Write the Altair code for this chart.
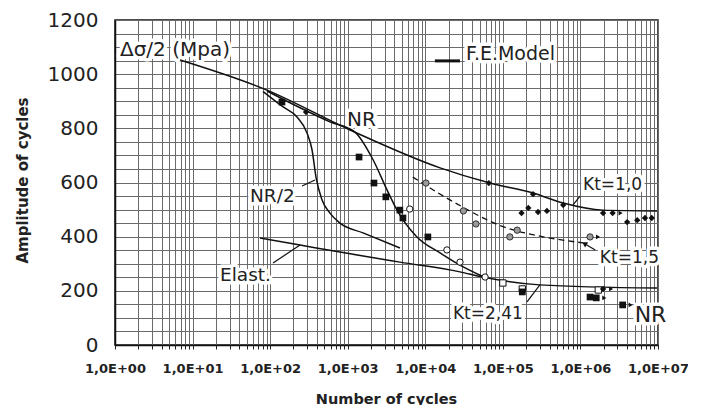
import altair as alt
import pandas as pd

# ---------------- data ----------------
# F.E. model curves (N cycles, amplitude MPa)
KT10_X = [6.9, 91, 1070, 15500, 68000, 245000, 600000, 1.95e6, 9.7e6]
KT10_Y = [1052, 941, 794, 654, 598, 561, 524, 498, 495]

KT241_X = [91, 243, 590, 1240, 2130, 3220, 4320, 7800, 15500, 28000, 55000]
KT241_Y = [938, 876, 824, 786, 683, 572, 498, 399, 340, 295, 253]

NR2_X = [81, 147, 222, 299, 347, 390, 467, 590, 795, 1574, 4720]
NR2_Y = [936, 879, 842, 783, 720, 620, 535, 487, 450, 414, 358]

ELAST_X = [74, 243, 795, 4720, 28000, 55000, 300000, 9.7e6]
ELAST_Y = [395, 369, 343, 306, 270, 251, 222, 210]

KT15_X = [6900, 21000, 113000, 300000, 1.08e6]
KT15_Y = [620, 535, 432, 402, 377]

# experimental points
SQ_X = [142, 1400, 2180, 3100, 4700, 5150, 10800, 178000, 1.33e6, 1.6e6, 3.5e6]
SQ_Y = [897, 694, 598, 547, 498, 469, 399, 196, 177, 174, 148]

OC_X = [6300, 19000, 28000, 59000]
OC_Y = [502, 351, 306, 251]

OS_X = [100000, 178000, 1.7e6]
OS_Y = [229, 207, 203]

DI_X = [290, 66000, 245000, 174000, 213000, 284000, 370000, 600000,
        1.96e6, 2.6e6, 4.0e6, 5.4e6, 6.8e6, 8.3e6, 1.96e6]
DI_Y = [860, 598, 557, 487, 506, 491, 495, 517,
        487, 487, 454, 461, 469, 469, 207]

GC_X = [10200, 31000, 45000, 123000, 153000, 1.33e6]
GC_Y = [598, 495, 447, 399, 424, 399]

# run-outs (not broken)
RUN_X = [2.6e6, 1.33e6, 1.96e6, 1.6e6, 3.5e6]
RUN_Y = [487, 399, 207, 174, 148]

# texts
LABEL_TEXT = ["Δσ/2 (Mpa)", "F.E.Model", "NR", "NR/2", "Elast.",
              "Kt=1,0", "Kt=1,5", "Kt=2,41", "NR"]
LABEL_X = [1.16, 33500, 980, 55, 22.6, 1.08e6, 1.78e6, 22700, 5.0e6]
LABEL_Y = [1089, 1075, 831, 550, 258, 591, 321, 114, 111]

# leader lines
LEAD_X = [258, 109, 804000, 1.55e6, 205000]
LEAD_Y = [587, 303, 517, 351, 159]
LEAD_X2 = [379, 243, 988000, 1.15e6, 300000]
LEAD_Y2 = [609, 369, 550, 373, 222]

# ---------------- chart ----------------
FONT = "DejaVu Sans"
X_GRID = [m * 10 ** e for e in range(7) for m in range(1, 10)] + [1e7]
Y_GRID = list(range(0, 1201, 50))

xscale = alt.Scale(type="log", domain=[1, 1e7], nice=False)
yscale = alt.Scale(domain=[0, 1200], nice=False)

GRID_COLOR = "#6a6a6a"

lg = "log(datum.value)/LN10"
x_axis = alt.Axis(
    values=X_GRID,
    labelExpr=f"abs({lg} - round({lg})) < 0.001 ? '1,0E+0' + round({lg}) : ''",
    labelFont=FONT, labelFontSize=13, labelFontWeight="bold", labelColor="#222",
    labelPadding=13, tickSize=4, tickColor="#222",
    domainColor="#111", domainWidth=1.5,
    gridColor=GRID_COLOR, gridWidth=1.0,
    title="Number of cycles", titleFont=FONT, titleFontSize=14.5,
    titleFontWeight="bold", titleColor="#222",
    titleX=271, titleY=54, titleAlign="center", titleBaseline="middle",
    labelFlush=False, labelOverlap=False,
)
y_axis = alt.Axis(
    values=Y_GRID,
    labelExpr="datum.value % 200 == 0 ? '' + datum.value : ''",
    labelFont=FONT, labelFontSize=20, labelColor="#222",
    ticks=False, labelPadding=17,
    domainColor="#111", domainWidth=1.5,
    gridColor=GRID_COLOR, gridWidth=1.0,
    title="Amplitude of cycles", titleFont=FONT, titleFontSize=15,
    titleFontWeight="bold", titleColor="#222",
    titleX=-93, titleY=160, titleAlign="center", titleBaseline="middle",
    labelOverlap=False,
)


def X(field="n"):
    return alt.X(f"{field}:Q", scale=xscale, axis=x_axis)


def Y(field="s"):
    return alt.Y(f"{field}:Q", scale=yscale, axis=y_axis)


def curve(name, xs, ys):
    return pd.DataFrame({"n": xs, "s": ys, "curve": name, "i": list(range(len(xs)))})


solid = pd.concat([
    curve("Kt=1,0", KT10_X, KT10_Y),
    curve("Kt=2,41", KT241_X, KT241_Y),
    curve("NR/2", NR2_X, NR2_Y),
    curve("Elast.", ELAST_X, ELAST_Y),
])
dashed = curve("Kt=1,5", KT15_X, KT15_Y)

solid_layer = alt.Chart(solid).mark_line(
    color="#111", strokeWidth=1.5, interpolate="monotone", clip=True
).encode(x=X(), y=Y(), detail="curve:N", order="i:Q")

dashed_layer = alt.Chart(dashed).mark_line(
    color="#111", strokeWidth=1.3, strokeDash=[6, 4], interpolate="monotone"
).encode(x=X(), y=Y(), order="i:Q")


def pts(xs, ys):
    return pd.DataFrame({"n": xs, "s": ys})


sq = alt.Chart(pts(SQ_X, SQ_Y)).mark_point(
    shape="square", filled=True, color="#111", size=45, opacity=1
).encode(x=X(), y=Y())
oc = alt.Chart(pts(OC_X, OC_Y)).mark_point(
    shape="circle", filled=True, fill="white", stroke="#111", strokeWidth=1,
    size=40, opacity=1
).encode(x=X(), y=Y())
os_ = alt.Chart(pts(OS_X, OS_Y)).mark_point(
    shape="square", filled=True, fill="white", stroke="#111", strokeWidth=1,
    size=40, opacity=1
).encode(x=X(), y=Y())
di = alt.Chart(pts(DI_X, DI_Y)).mark_point(
    shape="diamond", filled=True, color="#111", size=40, opacity=1
).encode(x=X(), y=Y())
gc = alt.Chart(pts(GC_X, GC_Y)).mark_point(
    shape="circle", filled=True, fill="#9a9a9a", stroke="#333", strokeWidth=1,
    size=40, opacity=1
).encode(x=X(), y=Y())
run = alt.Chart(pts(RUN_X, RUN_Y)).mark_point(
    shape="triangle-right", filled=True, color="#111", size=22, opacity=1, xOffset=8
).encode(x=X(), y=Y())

leads = pd.DataFrame({"n": LEAD_X, "s": LEAD_Y, "n2": LEAD_X2, "s2": LEAD_Y2})
lead_layer = alt.Chart(leads).mark_rule(color="#111", strokeWidth=1.2).encode(
    x=X(), y=Y(), x2="n2:Q", y2="s2:Q"
)
arrow_head = alt.Chart(pts([LEAD_X2[3]], [LEAD_Y2[3]])).mark_point(
    shape="triangle", filled=True, color="#111", size=35, angle=301, opacity=1
).encode(x=X(), y=Y())

# legend sample line for F.E.Model
legend_line = alt.Chart(pd.DataFrame({"n": [13300], "n2": [28000], "s": [1049]})).mark_rule(
    color="#111", strokeWidth=3
).encode(x=X(), x2="n2:Q", y=Y())

SIZES = [20, 19, 20, 18.5, 18.5, 17, 17, 17, 22]
labels = pd.DataFrame({"n": LABEL_X, "s": LABEL_Y, "t": LABEL_TEXT, "fs": SIZES})
halo_layer = alt.Chart(labels).mark_text(
    align="left", baseline="middle", font=FONT, color="white",
    stroke="white", strokeWidth=7, strokeJoin="round"
).encode(x=X(), y=Y(), text="t:N", size=alt.Size("fs:Q", scale=None, legend=None))
text_layer = alt.Chart(labels).mark_text(
    align="left", baseline="middle", font=FONT, color="#222"
).encode(x=X(), y=Y(), text="t:N", size=alt.Size("fs:Q", scale=None, legend=None))

chart = alt.layer(
    halo_layer, solid_layer, dashed_layer, lead_layer, arrow_head, legend_line,
    os_, oc, gc, sq, di, run, text_layer
).properties(
    width=543, height=325,
    padding={"left": 107, "top": 12, "right": 30, "bottom": 60},
    autosize=alt.AutoSizeParams(type="none"),
    background="white",
).configure_view(stroke="#111", strokeWidth=1.5)

chart.save("out.html", embed_options={"renderer": "svg", "actions": False})
